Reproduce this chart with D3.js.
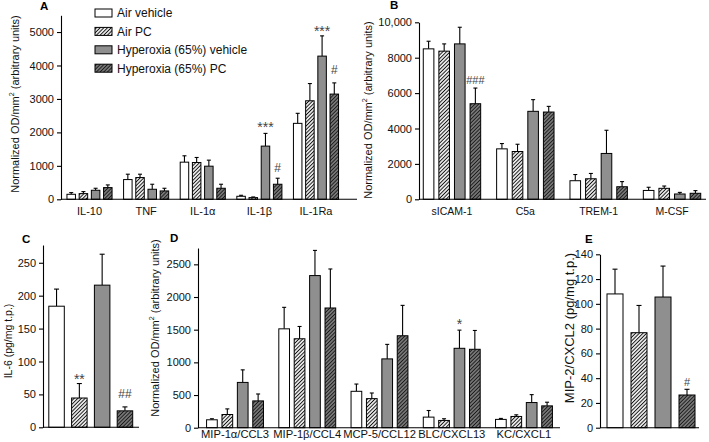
<!DOCTYPE html>
<html><head><meta charset="utf-8">
<script src="https://cdn.jsdelivr.net/npm/d3@7"></script>
<style>
html,body{margin:0;padding:0;background:#fff;}
svg{display:block;font-family:"Liberation Sans",Arial,Helvetica,sans-serif;}
</style></head><body>
<svg id="chart" width="709" height="442"></svg>
<script>
// ---------------- DATA ----------------
const seriesNames = ["Air vehicle", "Air PC", "Hyperoxia (65%) vehicle", "Hyperoxia (65%) PC"];

const catsA = ["IL-10", "TNF", "IL-1α", "IL-1β", "IL-1Ra"];
const meanA = [[150, 170, 270, 350], [590, 650, 300, 250], [1110, 1100, 990, 330], [90, 50, 1590, 450], [2270, 2945, 4280, 3145]];
const semA  = [[50, 60, 60, 80], [160, 100, 150, 80], [190, 150, 180, 120], [30, 20, 380, 180], [300, 515, 605, 335]];
const ticksA = [0, 1000, 2000, 3000, 4000, 5000];
const marksA = [
  {cat: "IL-1β", s: 2, text: "***", at: 2280},
  {cat: "IL-1β", s: 3, text: "#", at: 935},
  {cat: "IL-1Ra", s: 2, text: "***", at: 5148},
  {cat: "IL-1Ra", s: 3, text: "#", at: 3863}
];

const catsB = ["sICAM-1", "C5a", "TREM-1", "M-CSF"];
const meanB = [[8500, 8370, 8780, 5400], [2850, 2700, 4970, 4930], [1050, 1160, 2590, 710], [500, 620, 300, 340]];
const semB  = [[430, 410, 940, 885], [300, 410, 660, 320], [350, 300, 1310, 290], [180, 130, 90, 150]];
const ticksB = [0, 2000, 4000, 6000, 8000, 10000];
const marksB = [{cat: "sICAM-1", s: 3, text: "###", at: 6740}];

const catsC = [""];
const meanC = [[184, 44.5, 216, 25]];
const semC  = [[26, 22, 47, 6]];
const ticksC = [0, 50, 100, 150, 200, 250];
const marksC = [
  {cat: "", s: 1, text: "**", at: 79.4},
  {cat: "", s: 3, text: "##", at: 51.6}
];

const catsD = ["MIP-1α/CCL3", "MIP-1β/CCL4", "MCP-5/CCL12", "BLC/CXCL13", "KC/CXCL1"];
const meanD = [[121, 202, 693, 410], [1513, 1361, 2328, 1832], [557, 445, 1053, 1407], [162, 111, 1215, 1200], [127, 172, 385, 334]];
const semD  = [[16, 86, 192, 106], [329, 188, 385, 597], [111, 86, 222, 465], [101, 26, 278, 288], [15, 25, 121, 56]];
const ticksD = [0, 500, 1000, 1500, 2000, 2500];
const marksD = [{cat: "BLC/CXCL13", s: 2, text: "*", at: 1648}];

const catsE = [""];
const meanE = [[108, 76.7, 105.5, 26.4]];
const semE  = [[20, 22, 25, 4.6]];
const ticksE = [0, 20, 40, 60, 80, 100, 120, 140];
const marksE = [{cat: "", s: 3, text: "#", at: 36.9}];

// ---------------- LAYOUT / STYLE ----------------
const svg = d3.select("#chart");
const FONT = 11;
const defs = svg.append("defs");

function hatch(id, bg, lineColor) {
  const p = defs.append("pattern").attr("id", id).attr("patternUnits", "userSpaceOnUse")
    .attr("width", 2.6).attr("height", 10).attr("patternTransform", "rotate(45)");
  p.append("rect").attr("width", 2.6).attr("height", 10).attr("fill", bg);
  p.append("line").attr("x1", 1.3).attr("x2", 1.3).attr("y1", 0).attr("y2", 10)
    .attr("stroke", lineColor).attr("stroke-width", 1.05);
}
hatch("hatchWhite", "#ffffff", "#111");
hatch("hatchDark", "#808080", "#1a1a1a");
const fills = ["#ffffff", "url(#hatchWhite)", "#8f8f8f", "url(#hatchDark)"];

const panels = [
  {letter: "A", lx: 40, ly: 10, cats: catsA, mean: meanA, sem: semA, ticks: ticksA, marks: marksA,
   yMax: 5500, y0: 199.3, yTop: 15.3, axisX: 61, axisEnd: 357, gx: [61.2, 344.3], barStep: 12.2, barW: 8.5, cap: 4,
   catPad: 8, catSize: 11, ylabel: "od", ylx: 15, yly: 104, ylSize: 11, markSize: 12},
  {letter: "B", lx: 390, ly: 9, cats: catsB, mean: meanB, sem: semB, ticks: ticksB, marks: marksB,
   yMax: 10000, y0: 199.3, yTop: 22.3, axisX: 419, axisEnd: 706, gx: [415.3, 708.7], barStep: 15.6, barW: 10.6, cap: 4,
   catPad: 8, catSize: 10.5, ylabel: "od", ylx: 368, yly: 110, ylSize: 11, markSize: 11,
   fmt: d => d >= 10000 ? d3.format(",")(d) : String(d)},
  {letter: "C", lx: 22, ly: 243, cats: catsC, mean: meanC, sem: semC, ticks: ticksC, marks: marksC,
   yMax: 277, y0: 427.3, yTop: 245, axisX: 43, axisEnd: 139, gx: [45.1, 136.4], barStep: 22.8, barW: 15.5, cap: 5,
   catPad: 3, catSize: 11, ylabel: "IL-6 (pg/mg t.p.)", ylx: 8, yly: 341, ylSize: 10.5, markSize: 12},
  {letter: "D", lx: 170, ly: 242, cats: catsD, mean: meanD, sem: semD, ticks: ticksD, marks: marksD,
   yMax: 2750, y0: 427.7, yTop: 248, axisX: 198, axisEnd: 560, gx: [198.9, 560.1], barStep: 15.4, barW: 10.7, cap: 4,
   catPad: 2.5, catSize: 11.2, ylabel: "od", ylx: 155, yly: 328, ylSize: 11, markSize: 12},
  {letter: "E", lx: 585, ly: 243, cats: catsE, mean: meanE, sem: semE, ticks: ticksE, marks: marksE,
   yMax: 140, y0: 427.7, yTop: 254.3, axisX: 600, axisEnd: 699, gx: [603, 699], barStep: 24, barW: 16, cap: 5,
   catPad: 3, catSize: 11, ylabel: "MIP-2/CXCL2 (pg/mg t.p.)", ylx: 569, yly: 328, ylSize: 13, markSize: 11}
];

panels.forEach(P => {
  const g = svg.append("g");
  const y = d3.scaleLinear().domain([0, P.yMax]).range([P.y0, P.yTop]);
  const x = d3.scaleBand().domain(P.cats).range(P.gx).padding(0);
  const pi = 1 - P.barW / P.barStep;
  const xi = d3.scaleBand().domain(d3.range(seriesNames.length))
    .range([-P.barStep * 2, P.barStep * 2]).paddingInner(pi).paddingOuter(pi / 2);
  const cx = (c, s) => x(c) + x.bandwidth() / 2 + xi(s) + xi.bandwidth() / 2;

  const rows = [];
  P.cats.forEach((c, i) => seriesNames.forEach((sn, s) => rows.push({c, s, v: P.mean[i][s], e: P.sem[i][s]})));

  const eg = g.append("g").attr("stroke", "#000").attr("stroke-width", 1.1);
  eg.selectAll("line.v").data(rows).join("line").attr("class", "v")
    .attr("x1", d => cx(d.c, d.s)).attr("x2", d => cx(d.c, d.s))
    .attr("y1", d => y(d.v)).attr("y2", d => y(d.v + d.e));
  eg.selectAll("line.cap").data(rows).join("line").attr("class", "cap")
    .attr("x1", d => cx(d.c, d.s) - P.cap / 2).attr("x2", d => cx(d.c, d.s) + P.cap / 2)
    .attr("y1", d => y(d.v + d.e)).attr("y2", d => y(d.v + d.e));

  g.append("g").selectAll("rect").data(rows).join("rect")
    .attr("x", d => x(d.c) + x.bandwidth() / 2 + xi(d.s))
    .attr("width", xi.bandwidth())
    .attr("y", d => y(d.v))
    .attr("height", d => y(0) - y(d.v))
    .attr("fill", d => fills[d.s])
    .attr("stroke", "#000").attr("stroke-width", 1);

  const ya = g.append("g").attr("transform", `translate(${P.axisX},0)`)
    .call(d3.axisLeft(y).tickValues(P.ticks).tickSize(4).tickSizeOuter(0).tickPadding(3)
      .tickFormat(P.fmt || (d => String(d))));
  ya.attr("font-family", null);
  ya.selectAll("text").attr("font-size", FONT).attr("fill", "#111");
  ya.selectAll("line,path").attr("stroke", "#000").attr("stroke-width", 1.1);

  g.append("line").attr("x1", P.axisX).attr("x2", P.axisEnd).attr("y1", y(0)).attr("y2", y(0))
    .attr("stroke", "#000").attr("stroke-width", 1.1);

  if (P.cats.some(c => c !== "")) {
    const xa = g.append("g").attr("transform", `translate(0,${y(0)})`)
      .call(d3.axisBottom(x).tickSize(0).tickPadding(P.catPad));
    xa.select(".domain").remove();
    xa.attr("font-family", null);
    xa.selectAll("text").attr("font-size", P.catSize).attr("fill", "#111");
  }

  g.append("g").selectAll("text").data(P.marks).join("text")
    .attr("x", d => cx(d.cat, d.s)).attr("y", d => y(d.at))
    .attr("dy", d => d.text.startsWith("*") ? "0.62em" : "0.36em")
    .attr("text-anchor", "middle").attr("font-size", d => d.text.startsWith("*") ? P.markSize + 2 : P.markSize)
    .attr("fill", "#444").text(d => d.text);

  const yl = g.append("text").attr("transform", `translate(${P.ylx},${P.yly}) rotate(-90)`)
    .attr("text-anchor", "middle").attr("dominant-baseline", "central")
    .attr("font-size", P.ylSize).attr("fill", "#111");
  if (P.ylabel === "od") {
    yl.append("tspan").text("Normalized OD/mm");
    yl.append("tspan").attr("font-size", P.ylSize * 0.65).attr("dy", "-0.45em").text("2");
    yl.append("tspan").attr("dy", "0.3em").text(" (arbitrary units)");
  } else {
    yl.text(P.ylabel);
  }

  g.append("text").attr("x", P.lx).attr("y", P.ly).attr("font-weight", "bold")
    .attr("font-size", 11.5).attr("fill", "#000").text(P.letter);
});

// legend (panel A)
const leg = svg.append("g").attr("transform", "translate(95,9)");
seriesNames.forEach((name, i) => {
  const r = leg.append("g").attr("transform", `translate(0,${i * 18.4})`);
  r.append("rect").attr("width", 17).attr("height", 8).attr("fill", fills[i])
    .attr("stroke", "#000").attr("stroke-width", 1);
  r.append("text").attr("x", 22).attr("y", 4).attr("dy", "0.36em")
    .attr("font-size", 12).attr("fill", "#111").text(name);
});
</script>
</body></html>
